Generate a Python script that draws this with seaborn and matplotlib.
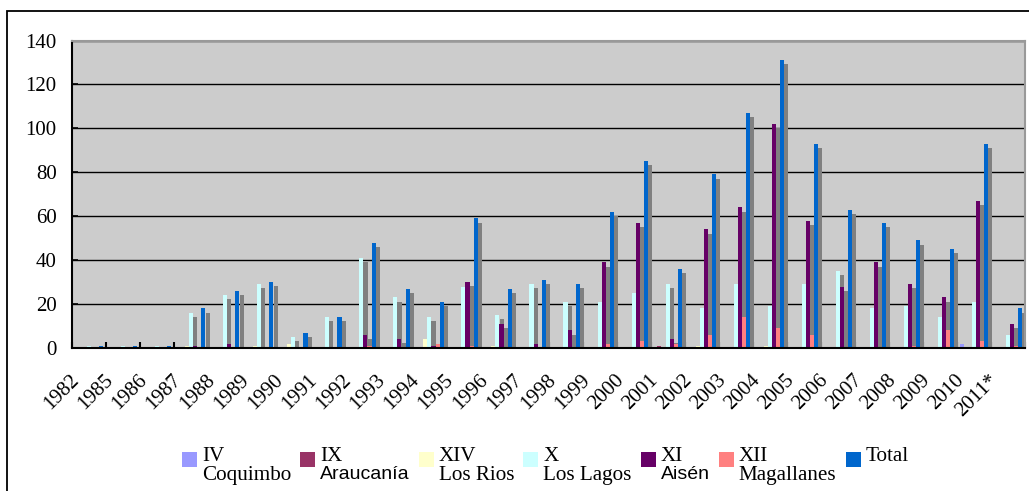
import numpy as np
import pandas as pd
import matplotlib
matplotlib.use("Agg")
import matplotlib.pyplot as plt
import matplotlib.patheffects as pe
import matplotlib.transforms as mtransforms
from matplotlib.patches import Rectangle
from matplotlib.offsetbox import AnchoredOffsetbox, HPacker, VPacker, TextArea, DrawingArea
import seaborn as sns

years = ["1982", "1985", "1986", "1987", "1988", "1989", "1990", "1991", "1992", "1993",
         "1994", "1995", "1996", "1997", "1998", "1999", "2000", "2001", "2002", "2003",
         "2004", "2005", "2006", "2007", "2008", "2009", "2010", "2011*"]

iv_coquimbo = [0, 0, 0, 0, 0, 0, 0, 0, 0, 0, 0, 0, 0, 0, 0, 0, 0, 0, 0, 0, 0, 0, 0, 0, 0, 0, 2, 0]
ix_araucania = [0, 0, 0, 0, 0, 0, 0, 0, 0, 0, 0, 0, 0, 0, 0, 0, 0, 1, 0, 0, 0, 0, 0, 0, 0, 0, 0, 0]
xiv_los_rios = [0, 0, 0, 1, 0, 1, 2, 0, 0, 0, 4, 0, 1, 0, 0, 0, 0, 0, 1, 0, 1, 0, 0, 0, 0, 0, 0, 0]
x_los_lagos = [1, 1, 1, 16, 24, 29, 5, 14, 41, 23, 14, 28, 15, 29, 21, 21, 25, 29, 18, 29,
               19, 29, 35, 18, 19, 14, 21, 6]
xi_aisen = [0, 0, 0, 1, 2, 0, 0, 0, 6, 4, 1, 30, 11, 2, 8, 39, 57, 4, 54, 64,
            102, 58, 28, 39, 29, 23, 67, 11]
xii_magallanes = [0, 0, 0, 0, 0, 0, 0, 0, 1, 0, 2, 1, 0, 0, 0, 2, 3, 2, 6, 14,
                  9, 6, 0, 0, 1, 8, 3, 1]
total = [1, 1, 1, 18, 26, 30, 7, 14, 48, 27, 21, 59, 27, 31, 29, 62, 85, 36, 79, 107,
         131, 93, 63, 57, 49, 45, 93, 18]

series_codes = ["IV", "IX", "XIV", "X", "XI", "XII", "Total"]
series_names = ["Coquimbo", "Araucanía", "Los Rios", "Los Lagos", "Aisén", "Magallanes", ""]
series_values = [iv_coquimbo, ix_araucania, xiv_los_rios, x_los_lagos, xi_aisen,
                 xii_magallanes, total]
colors = ["#9999FF", "#993366", "#FFFFCC", "#CCFFFF", "#660066", "#FF8080", "#0066CC"]

rows = []
for code, vals in zip(series_codes, series_values):
    for y, v in zip(years, vals):
        rows.append({"year": y, "region": code, "value": v})
df = pd.DataFrame(rows)

serif = "Liberation Serif"
sans = "Liberation Sans"
plt.rcParams["font.family"] = [serif, "DejaVu Sans"]

W, H = 1029, 491
fig = plt.figure(figsize=(W / 100, H / 100), dpi=100)
ax = fig.add_axes([72 / W, 1 - 348 / H, (1025 - 72) / W, (348 - 40.5) / H])

sns.barplot(data=df, x="year", y="value", hue="region", order=years,
            hue_order=series_codes, palette=colors, saturation=1, width=0.84,
            errorbar=None, linewidth=0, ax=ax, legend=False)

shadow = [pe.SimplePatchShadow(offset=(3, -3), shadow_rgbFace="#808080", alpha=1.0),
          pe.Normal()]
for cont in ax.containers:
    for bar in cont:
        bar.set_path_effects(shadow)

ax.set_facecolor("#CCCCCC")
ax.set_ylim(0, 140)
ax.set_xlim(-0.5, len(years) - 0.5)
ax.set_yticks(np.arange(0, 141, 20))
ax.yaxis.grid(True, color="black", lw=1.0)
ax.xaxis.grid(False)
ax.set_axisbelow(True)
ax.set_xlabel("")
ax.set_ylabel("")

for s in ["left", "bottom"]:
    ax.spines[s].set_color("black")
    ax.spines[s].set_linewidth(1.5)
for s in ["top", "right"]:
    ax.spines[s].set_color("#999999")
    ax.spines[s].set_linewidth(1.5)

ax.tick_params(axis="y", direction="in", length=4.5, width=1.2, labelsize=15, pad=11,
               colors="black")
ax.set_xticks(np.arange(-0.5, len(years), 1.0), minor=True)
ax.tick_params(axis="x", which="minor", direction="in", length=4.5, width=1.5, color="black")
ax.tick_params(axis="x", which="major", length=0, labelsize=15, pad=21)
shift = mtransforms.ScaledTranslation(-9 / 72, 0, fig.dpi_scale_trans)
for lab in ax.get_xticklabels():
    lab.set_rotation(45)
    lab.set_ha("right")
    lab.set_va("center")
    lab.set_rotation_mode("anchor")
    lab.set_transform(lab.get_transform() + shift)

# legend built from offset boxes: colour key + two-line label
fs = 15.2
key = 10.8  # points
entries = []
for code, name, c in zip(series_codes, series_names, colors):
    da = DrawingArea(key, key)
    da.add_artist(Rectangle((0, 0), key, key, facecolor=c, edgecolor="none"))
    spacer = DrawingArea(key, 3.4)
    keybox = VPacker(children=[spacer, da], sep=0, pad=0, align="left")
    lines = [TextArea(code, textprops=dict(family=serif, size=fs))]
    if name:
        fam = sans if name in ("Araucanía", "Aisén") else serif
        lines.append(TextArea(name, textprops=dict(family=fam, size=14.0 if fam == sans else fs)))
    txt = VPacker(children=lines, sep=0, pad=0, align="left")
    entries.append(HPacker(children=[keybox, txt], sep=3.6, pad=0, align="top"))
row = HPacker(children=entries, sep=6.5, pad=0, align="top")
anch = AnchoredOffsetbox(loc="upper left", child=row, pad=0, borderpad=0, frameon=False,
                         bbox_to_anchor=((182 - 72) / 953, -(447 - 348) / 307.5),
                         bbox_transform=ax.transAxes)
ax.add_artist(anch)

# outer chart border (partially outside the image)
top_y = 1 - 10.5 / H
fig.add_artist(Rectangle((7 / W, -0.2), 1.2, top_y + 0.2,
                         transform=fig.transFigure, fill=False, edgecolor="black",
                         lw=1.3, clip_on=False))

fig.savefig("out.png", dpi=100, facecolor="white")
